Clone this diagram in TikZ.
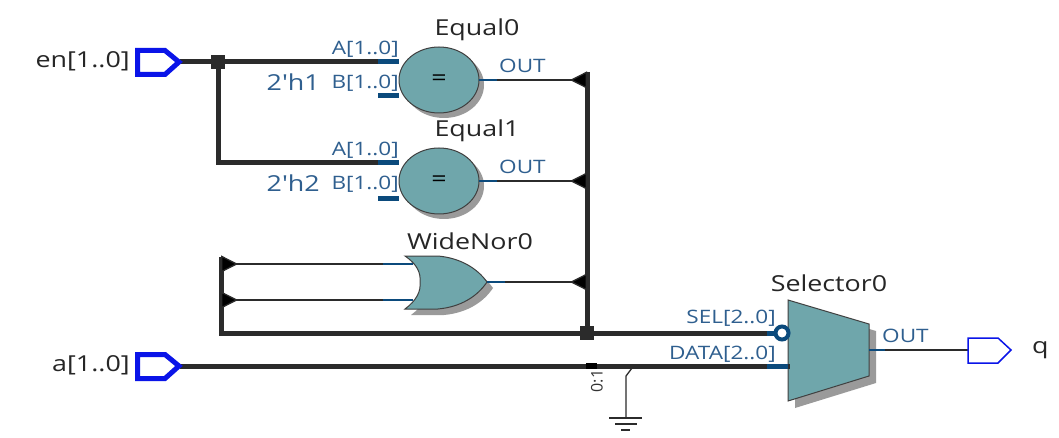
\documentclass[tikz,border=0pt]{standalone}
\usepackage{fontspec}
\setmainfont{Open Sans}
\newfontfamily\stretchfont[FakeStretch=1.22]{Open Sans}
\usetikzlibrary{arrows.meta,shapes.geometric,shadows}
\definecolor{gatefill}{HTML}{6FA6AB}
\definecolor{wirecol}{HTML}{2B2B2B}
\definecolor{pinblue}{HTML}{0B4A7C}
\definecolor{labblue}{HTML}{2F5F8F}
\definecolor{portblue}{HTML}{0A14E8}
\definecolor{shadowgray}{HTML}{9A9A9A}
\tikzset{
  x=1pt,y=-1pt,
  bus/.style={draw=wirecol,line width=5pt},
  sig/.style={draw=wirecol,line width=1.3pt},
  pinbus/.style={draw=pinblue,line width=5pt},
  pinsig/.style={draw=pinblue,line width=1.3pt},
  tipin/.style={-{Triangle[reversed,length=17pt,width=17pt,fill=black]}},
  tipout/.style={{Triangle[reversed,length=17pt,width=17pt,fill=black]}-},
  jct/.style={fill=wirecol,minimum size=14pt,inner sep=0pt,outer sep=0pt},
  eqgate/.style={ellipse,draw=black!75,line width=1pt,fill=gatefill,minimum width=80pt,minimum height=66pt,inner sep=0pt,outer sep=0pt,
    drop shadow={shadow xshift=5pt,shadow yshift=-5pt,fill=shadowgray,opacity=1},font=\stretchfont\fontsize{22}{22}\selectfont},
  gateshape/.style={draw=black!75,line width=1pt,fill=gatefill},
  shadowshape/.style={fill=shadowgray},
  bigport/.style={draw=portblue,line width=5pt,fill=white,line join=miter},
  smallport/.style={draw=portblue,line width=1.5pt,fill=white},
  celllab/.style={inner sep=0pt,text=black!85,font=\stretchfont\fontsize{22}{22}\selectfont},
  pinlab/.style={inner sep=0pt,text=labblue,font=\stretchfont\fontsize{18.5}{19}\selectfont},
  constlab/.style={inner sep=0pt,text=labblue,font=\stretchfont\fontsize{22}{22}\selectfont},
  gndline/.style={draw=wirecol,line width=1.3pt},
}
\begin{document}
\begin{tikzpicture}
\path[use as bounding box,fill=white] (0,0) rectangle (1059,438);

% Named points
\coordinate (enout) at (180,62);
\coordinate (aout) at (180,366);
\coordinate (qin) at (968,350);
\coordinate (bustop) at (587,72);
\coordinate (busA) at (587,80);
\coordinate (busB) at (587,181);
\coordinate (busC) at (587,282);
\coordinate (lefttop) at (221,257);
\coordinate (leftA) at (221,264);
\coordinate (leftB) at (221,300);
\coordinate (leftbot) at (221,333);
\coordinate (muxsel) at (776,333);
\coordinate (muxdata) at (790,366);
\coordinate (muxout) at (869,350);
\coordinate (orA) at (413,264);
\coordinate (orB) at (413,300);
\coordinate (orout) at (487,282);
\coordinate (gndtap) at (632,368);
\coordinate (gndknee) at (626,376);
\coordinate (gndend) at (626,418);

% Equal gates
\node[eqgate] (eq0) at (439,80) {=};
\node[eqgate] (eq1) at (439,181) {=};
\coordinate (eq0A) at (399,62);
\coordinate (eq0B) at (399,96);
\coordinate (eq1A) at (399,163);
\coordinate (eq1B) at (399,199);

% Wide NOR gate
\path[shadowshape,shift={(6,6)}] (405,256) -- (438,256) .. controls (460,258) and (477,268) .. (487,282) .. controls (477,297) and (460,307) .. (438,309) -- (405,309) .. controls (417,300) and (421,291) .. (420,282) .. controls (421,273) and (417,264) .. (405,256) -- cycle;
\path[gateshape] (405,256) -- (438,256) .. controls (460,258) and (477,268) .. (487,282) .. controls (477,297) and (460,307) .. (438,309) -- (405,309) .. controls (417,300) and (421,291) .. (420,282) .. controls (421,273) and (417,264) .. (405,256) -- cycle;

% Selector
\path[shadowshape,shift={(7,7)}] (788,300) -- (869,324) -- (869,376) -- (788,401) -- cycle;
\path[gateshape] (788,300) -- (869,324) -- (869,376) -- (788,401) -- cycle;

% Bus wires
\coordinate (jctEn) at (218,62);
\coordinate (jctBus) at (587,333);
\draw[bus] (enout) -- (eq0A);
\draw[bus] (jctEn) |- (eq1A);
\draw[bus] (bustop) -- (jctBus);
\draw[bus] (lefttop) -- (leftbot) -- (jctBus) -- (muxsel);
\draw[bus] (aout) -- (muxdata);

% Signal wires
\draw[sig,tipin] (eq0.east) -- (busA);
\draw[sig,tipin] (eq1.east) -- (busB);
\draw[sig,tipin] (orout) -- (busC);
\draw[sig,tipout] (leftA) -- (orA);
\draw[sig,tipout] (leftB) -- (orB);
\draw[sig] (muxout) -- (qin);

% Blue pin stubs
\draw[pinbus] (378,62) -- (eq0A);
\draw[pinbus] (378,96) -- (eq0B);
\draw[pinbus] (378,163) -- (eq1A);
\draw[pinbus] (378,199) -- (eq1B);
\draw[pinsig] (eq0.east) -- +(18,0);
\draw[pinsig] (eq1.east) -- +(18,0);
\draw[pinsig] (orout) -- +(18,0);
\draw[pinsig] (383,264) -- (orA);
\draw[pinsig] (383,300) -- (orB);
\draw[pinsig] (muxout) -- +(16,0);
\draw[pinbus] (767,333) -- (muxsel);
\draw[pinbus] (767,366) -- (788,366);

% Junctions
\node[jct] (j1) at (jctEn) {};
\node[jct] (j2) at (jctBus) {};
\node[fill=black,minimum width=11pt,minimum height=6pt,inner sep=0pt] (tap) at (591,366) {};

% Inversion bubble
\node[circle,draw=pinblue,fill=white,line width=4pt,minimum size=13pt,inner sep=0pt] (bub) at (782,333) {};

% Ground
\draw[gndline] (gndtap) -- (gndknee) -- (gndend);
\draw[gndline] (609,418) -- (642,418);
\draw[gndline] (615,424) -- (637,424);
\draw[gndline] (621,430) -- (630,430);

% Ports
\draw[bigport] (137.5,50.5) -- (165,50.5) -- (179,62) -- (165,74.5) -- (137.5,74.5) -- cycle;
\draw[bigport] (137.5,354.5) -- (165,354.5) -- (179,366) -- (165,378.5) -- (137.5,378.5) -- cycle;
\draw[smallport] (968,338) -- (998,338) -- (1011,350) -- (998,363) -- (968,363) -- cycle;

% Names
\node[celllab,anchor=east] (en) at (130,61) {en[1..0]};
\node[celllab,anchor=east] (a) at (130,365) {a[1..0]};
\node[celllab,anchor=west] (q) at (1032,350) {q};
\node[celllab] (n0) at (477,30) {Equal0};
\node[celllab] (n1) at (477,131) {Equal1};
\node[celllab] (n2) at (470,241) {WideNor0};
\node[celllab] (n3) at (829,283) {Selector0};

% Pin labels
\node[pinlab,anchor=east] (l1) at (399,49) {A[1..0]};
\node[pinlab,anchor=east] (l2) at (399,83) {B[1..0]};
\node[pinlab,anchor=east] (l3) at (399,150) {A[1..0]};
\node[pinlab,anchor=east] (l4) at (399,184) {B[1..0]};
\node[constlab,anchor=east] (c1) at (320,82) {2'h1};
\node[constlab,anchor=east] (c2) at (320,183) {2'h2};
\node[pinlab,anchor=west] (o1) at (499,66) {OUT};
\node[pinlab,anchor=west] (o2) at (499,167) {OUT};
\node[pinlab,anchor=west] (o3) at (882,336) {OUT};
\node[pinlab,anchor=east] (s1) at (776,318) {SEL[2..0]};
\node[pinlab,anchor=east] (s2) at (776,354) {DATA[2..0]};
\node[inner sep=0pt,text=black!80,rotate=90,font=\fontsize{16}{16}\selectfont] (r) at (597,381) {0:1};
\end{tikzpicture}
\end{document}
